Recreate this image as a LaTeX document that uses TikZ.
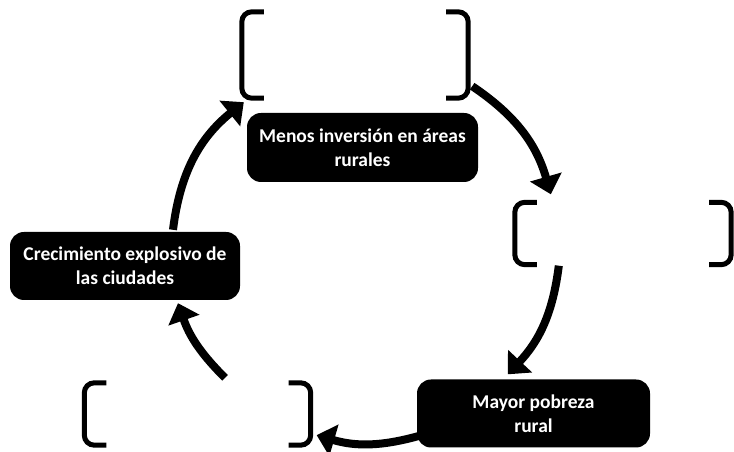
\documentclass[tikz,border=0pt]{standalone}
\usepackage{fontspec}
\setmainfont{Carlito}
\usetikzlibrary{arrows.meta}

\newcommand{\boxcorners}[1]{%
\draw[brk] ([xshift=22pt]#1.north west) -- (#1.north west) -- (#1.south west) -- ([xshift=22pt]#1.south west);
\draw[brk] ([xshift=-22pt]#1.north east) -- (#1.north east) -- (#1.south east) -- ([xshift=-22pt]#1.south east);}

\begin{document}
\begin{tikzpicture}[x=1pt,y=1pt,
  dark/.style={fill=black,text=white,rounded corners=14pt,minimum width=231pt,minimum height=68pt,
    inner sep=0pt,align=center,font=\bfseries\fontsize{19.5}{24}\selectfont},
  blank/.style={minimum width=226pt,minimum height=62pt,inner sep=0pt},
  brk/.style={line width=5pt,rounded corners=10pt},
  cyc/.style={-{Triangle[width=32pt,length=18pt]},line width=8pt}]
\useasboundingbox (0,0) rectangle (734,452);
% empty boxes
\node[blank,minimum height=86pt] (inv) at (355,397) {};
\node[blank,minimum width=216pt] (der) at (623,218.5) {};
\node[blank] (izq) at (197.5,38) {};
\boxcorners{inv}
\boxcorners{der}
\boxcorners{izq}
% black boxes
\node[dark,minimum height=69pt] (menos) at (362.5,304.5) {Menos inversión en áreas\\rurales};
\node[dark,minimum width=233pt] (pobreza) at (533.5,38.5) {Mayor pobreza\\rural};
\node[dark,minimum width=230pt] (crec) at (125,186) {Crecimiento explosivo de\\las ciudades};
% cycle
\draw[cyc] ([shift={(4,12)}]inv.south east) to[bend left=20] ([shift={(36,8)}]der.north west);
\draw[cyc] ([shift={(44,-1)}]der.south west) to[bend left=18] ([shift={(91,5)}]pobreza.north west);
\draw[cyc] ([shift={(3,12)}]pobreza.south west) to[bend left=16] ([shift={(6,10)}]izq.south east);
\draw[cyc] ([shift={(27.5,5)}]izq.north) to[bend left=13] ([shift={(53,-3)}]crec.south);
\draw[cyc] ([shift={(48,2)}]crec.north) to[bend left=22] ([shift={(2,-4)}]inv.south west);
\end{tikzpicture}
\end{document}
